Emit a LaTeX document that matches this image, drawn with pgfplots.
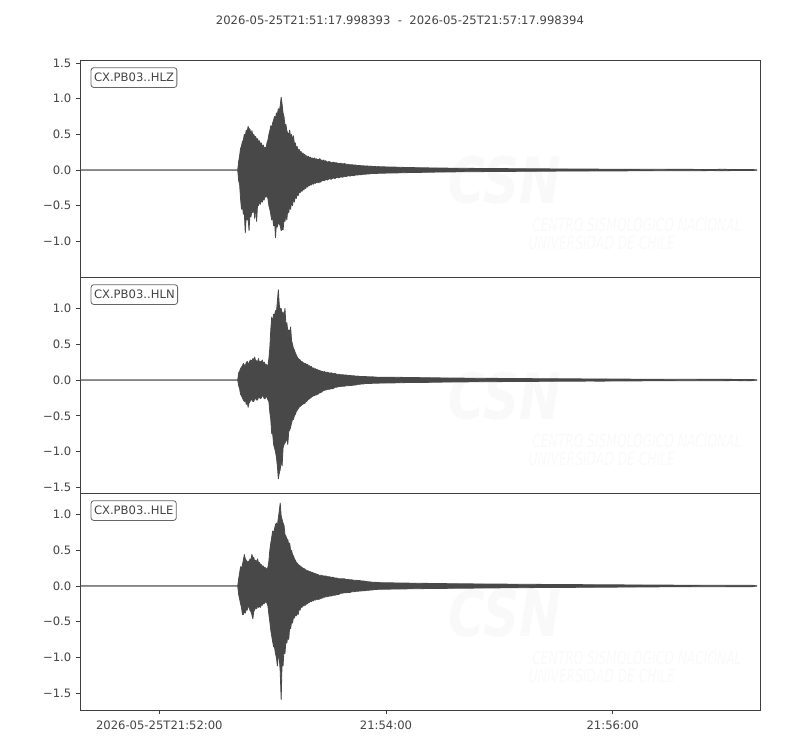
\documentclass[border=0pt]{standalone}
\usepackage{fontspec}
\setmainfont{DejaVu Sans}
\usepackage{pgfplots}
\usepackage{pgfplotstable}
\pgfplotsset{compat=1.18}
\definecolor{tr}{HTML}{484848}
\definecolor{fr}{HTML}{3F3F3F}
\definecolor{tx}{HTML}{444444}
\definecolor{wm}{HTML}{F9F9F9}

% ---------- HLZ ----------
\pgfplotstableread{
t y
0 0
83.5 0
84.0 0.12
84.5 0.2
85.0 0.3
85.5 0.34
86.0 0.4
86.5 0.42
87.0 0.5
87.5 0.47
88.0 0.56
88.5 0.54
89.0 0.61
89.5 0.58
90.0 0.57
90.5 0.5
91.0 0.55
91.5 0.48
92.0 0.5
92.5 0.46
93.0 0.47
93.5 0.42
94.0 0.44
94.5 0.39
95.0 0.41
95.5 0.36
96.0 0.38
96.5 0.33
97.0 0.35
97.5 0.3
98.0 0.32
98.5 0.3
99.0 0.38
99.5 0.42
100.0 0.5
100.5 0.55
101.0 0.62
101.5 0.6
102.0 0.66
102.5 0.7
103.0 0.75
103.5 0.72
104.0 0.8
104.5 0.78
105.0 0.86
105.5 0.82
106.0 0.9
106.5 1.02
107.0 0.92
107.5 0.8
108.0 0.75
108.5 0.62
109.0 0.64
109.5 0.55
110.0 0.52
110.5 0.48
111.0 0.56
111.5 0.46
112.0 0.5
112.5 0.42
113.0 0.48
113.5 0.36
114.0 0.38
114.5 0.3
115.0 0.33
115.5 0.27
116.0 0.29
116.5 0.25
117.0 0.26
117.5 0.22
118.0 0.24
118.5 0.21
119.0 0.22
119.5 0.19
120.0 0.2
120.5 0.18
121.0 0.19
121.5 0.17
122.0 0.18
122.5 0.16
123.0 0.17
123.5 0.15
124.0 0.17
124.5 0.15
125.0 0.16
125.5 0.14
126.0 0.15
126.5 0.14
127.0 0.16
127.5 0.13
128.0 0.14
128.5 0.12
129.0 0.14
129.5 0.12
130.0 0.13
131 0.11
132 0.12
133 0.1
134 0.11
135 0.1
136 0.1
137 0.09
138 0.095
139 0.085
140 0.09
141 0.08
142 0.08
143 0.072
144 0.075
145 0.068
146 0.07
147 0.062
148 0.065
149 0.058
150 0.06
151 0.055
152 0.058
153 0.052
154 0.055
155 0.048
156 0.05
157 0.046
158 0.048
159 0.044
160 0.045
164 0.042
168 0.04
172 0.036
176 0.034
180 0.032
184 0.03
188 0.029
192 0.027
196 0.026
200 0.025
204 0.024
208 0.023
212 0.022
216 0.021
220 0.021
224 0.02
228 0.019
232 0.018
236 0.018
240 0.017
244 0.016
248 0.016
252 0.015
256 0.015
260 0.014
264 0.014
268 0.013
272 0.013
276 0.012
280 0.012
284 0.012
288 0.011
292 0.011
296 0.011
300 0.01
304 0.01
308 0.01
312 0.009
316 0.009
320 0.009
324 0.009
328 0.008
332 0.008
336 0.008
340 0.01
344 0.008
348 0.008
352 0.007
356 0.007
358.5 0
}\hlzU

\pgfplotstableread{
t y
0 0
83.5 0
84.0 -0.15
84.5 -0.2
85.0 -0.4
85.5 -0.55
86.0 -0.5
86.5 -0.62
87.0 -0.6
87.5 -0.88
88.0 -0.65
88.5 -0.7
89.0 -0.68
89.5 -0.85
90.0 -0.6
90.5 -0.66
91.0 -0.56
91.5 -0.6
92.0 -0.52
92.5 -0.68
93.0 -0.5
93.5 -0.72
94.0 -0.48
94.5 -0.5
95.0 -0.44
95.5 -0.48
96.0 -0.42
96.5 -0.45
97.0 -0.4
97.5 -0.42
98.0 -0.36
98.5 -0.38
99.0 -0.36
99.5 -0.4
100.0 -0.5
100.5 -0.55
101.0 -0.62
101.5 -0.7
102.0 -0.66
102.5 -0.78
103.0 -0.7
103.5 -0.95
104.0 -0.74
104.5 -0.8
105.0 -0.72
105.5 -0.76
106.0 -0.78
106.5 -0.85
107.0 -0.82
107.5 -0.84
108.0 -0.7
108.5 -0.72
109.0 -0.62
109.5 -0.7
110.0 -0.55
110.5 -0.6
111.0 -0.5
111.5 -0.55
112.0 -0.44
112.5 -0.5
113.0 -0.4
113.5 -0.45
114.0 -0.36
114.5 -0.4
115.0 -0.33
115.5 -0.36
116.0 -0.3
116.5 -0.32
117.0 -0.28
117.5 -0.3
118.0 -0.26
118.5 -0.28
119.0 -0.24
119.5 -0.26
120.0 -0.22
120.5 -0.24
121.0 -0.21
121.5 -0.22
122.0 -0.2
122.5 -0.21
123.0 -0.18
123.5 -0.2
124.0 -0.17
124.5 -0.19
125.0 -0.16
125.5 -0.18
126.0 -0.16
126.5 -0.18
127.0 -0.15
127.5 -0.17
128.0 -0.14
128.5 -0.15
129.0 -0.14
129.5 -0.15
130.0 -0.13
131 -0.14
132 -0.12
133 -0.13
134 -0.11
135 -0.12
136 -0.1
137 -0.11
138 -0.095
139 -0.1
140 -0.088
141 -0.09
142 -0.08
143 -0.085
144 -0.075
145 -0.08
146 -0.068
147 -0.07
148 -0.064
149 -0.065
150 -0.058
151 -0.06
152 -0.054
153 -0.055
154 -0.05
155 -0.05
156 -0.048
157 -0.05
158 -0.045
159 -0.045
160 -0.044
164 -0.042
168 -0.04
172 -0.037
176 -0.034
180 -0.033
184 -0.031
188 -0.029
192 -0.028
196 -0.027
200 -0.025
204 -0.024
208 -0.024
212 -0.023
216 -0.021
220 -0.021
224 -0.02
228 -0.02
232 -0.018
236 -0.018
240 -0.018
244 -0.016
248 -0.016
252 -0.015
256 -0.015
260 -0.014
264 -0.014
268 -0.014
272 -0.013
276 -0.013
280 -0.012
284 -0.012
288 -0.012
292 -0.011
296 -0.011
300 -0.011
304 -0.01
308 -0.01
312 -0.01
316 -0.009
320 -0.009
324 -0.009
328 -0.009
332 -0.008
336 -0.008
340 -0.011
344 -0.008
348 -0.008
352 -0.007
356 -0.007
358.5 0
}\hlzL

% ---------- HLN ----------
\pgfplotstableread{
t y
0 0
83.5 0
84.0 0.1
84.5 0.12
85.0 0.16
85.5 0.18
86.0 0.2
86.5 0.23
87.0 0.21
87.5 0.2
88.0 0.24
88.5 0.26
89.0 0.23
89.5 0.24
90.0 0.27
90.5 0.28
91.0 0.25
91.5 0.3
92.0 0.28
92.5 0.32
93.0 0.26
93.5 0.27
94.0 0.25
94.5 0.3
95.0 0.24
95.5 0.26
96.0 0.25
96.5 0.28
97.0 0.23
97.5 0.25
98.0 0.22
98.5 0.22
99.0 0.2
99.5 0.2
100.0 0.3
100.5 0.45
101.0 0.7
101.5 0.88
102.0 0.8
102.5 0.92
103.0 0.9
103.5 0.97
104.0 0.95
104.5 1.1
105.0 1.26
105.5 1.05
106.0 0.98
106.5 1.0
107.0 0.92
107.5 0.95
108.0 0.88
108.5 1.0
109.0 0.78
109.5 0.8
110.0 0.68
110.5 0.7
111.0 0.66
111.5 0.74
112.0 0.55
112.5 0.5
113.0 0.44
113.5 0.42
114.0 0.38
114.5 0.35
115.0 0.32
115.5 0.3
116.0 0.29
116.5 0.28
117.0 0.26
117.5 0.26
118.0 0.24
118.5 0.24
119.0 0.22
119.5 0.23
120.0 0.21
120.5 0.22
121.0 0.19
121.5 0.2
122.0 0.18
122.5 0.19
123.0 0.16
123.5 0.17
124.0 0.15
124.5 0.16
125.0 0.14
125.5 0.15
126.0 0.13
126.5 0.14
127.0 0.12
127.5 0.13
128.0 0.115
128.5 0.12
129.0 0.11
129.5 0.12
130.0 0.105
131 0.11
132 0.095
133 0.1
134 0.088
135 0.09
136 0.08
137 0.08
138 0.072
139 0.075
140 0.068
141 0.07
142 0.062
143 0.065
144 0.058
145 0.06
146 0.053
147 0.055
148 0.05
149 0.05
150 0.047
151 0.05
152 0.045
153 0.045
154 0.043
155 0.045
156 0.041
157 0.04
158 0.04
159 0.04
160 0.039
164 0.04
168 0.038
172 0.036
176 0.035
180 0.033
184 0.032
188 0.031
192 0.029
196 0.028
200 0.027
204 0.026
208 0.025
212 0.024
216 0.023
220 0.023
224 0.022
228 0.021
232 0.02
236 0.02
240 0.019
244 0.019
248 0.018
252 0.018
256 0.017
260 0.016
264 0.016
268 0.015
272 0.015
276 0.015
280 0.014
284 0.013
288 0.013
292 0.012
296 0.012
300 0.012
304 0.011
308 0.011
312 0.01
316 0.01
320 0.01
324 0.01
328 0.009
332 0.009
336 0.009
340 0.009
344 0.009
348 0.008
352 0.008
356 0.008
358.5 0
}\hlnU

\pgfplotstableread{
t y
0 0
83.5 0
84.0 -0.08
84.5 -0.12
85.0 -0.2
85.5 -0.22
86.0 -0.25
86.5 -0.28
87.0 -0.3
87.5 -0.27
88.0 -0.34
88.5 -0.3
89.0 -0.38
89.5 -0.32
90.0 -0.3
90.5 -0.28
91.0 -0.27
91.5 -0.3
92.0 -0.3
92.5 -0.26
93.0 -0.26
93.5 -0.28
94.0 -0.28
94.5 -0.24
95.0 -0.24
95.5 -0.26
96.0 -0.25
96.5 -0.22
97.0 -0.22
97.5 -0.26
98.0 -0.26
98.5 -0.23
99.0 -0.24
99.5 -0.28
100.0 -0.3
100.5 -0.45
101.0 -0.55
101.5 -0.75
102.0 -0.75
102.5 -0.9
103.0 -0.95
103.5 -1.0
104.0 -1.08
104.5 -1.2
105.0 -1.38
105.5 -1.3
106.0 -1.25
106.5 -1.1
107.0 -1.2
107.5 -0.95
108.0 -0.9
108.5 -0.88
109.0 -0.85
109.5 -0.82
110.0 -0.9
110.5 -0.72
111.0 -0.7
111.5 -0.66
112.0 -0.6
112.5 -0.55
113.0 -0.55
113.5 -0.5
114.0 -0.48
114.5 -0.44
115.0 -0.42
115.5 -0.4
116.0 -0.38
116.5 -0.37
117.0 -0.36
117.5 -0.34
118.0 -0.34
118.5 -0.32
119.0 -0.33
119.5 -0.3
120.0 -0.3
120.5 -0.28
121.0 -0.27
121.5 -0.26
122.0 -0.25
122.5 -0.24
123.0 -0.23
123.5 -0.22
124.0 -0.22
124.5 -0.21
125.0 -0.21
125.5 -0.2
126.0 -0.2
126.5 -0.18
127.0 -0.18
127.5 -0.17
128.0 -0.17
128.5 -0.15
129.0 -0.15
129.5 -0.14
130.0 -0.14
131 -0.13
132 -0.13
133 -0.12
134 -0.12
135 -0.1
136 -0.1
137 -0.09
138 -0.09
139 -0.085
140 -0.085
141 -0.08
142 -0.08
143 -0.075
144 -0.075
145 -0.07
146 -0.07
147 -0.06
148 -0.06
149 -0.055
150 -0.055
151 -0.05
152 -0.05
153 -0.048
154 -0.048
155 -0.045
156 -0.045
157 -0.044
158 -0.044
159 -0.042
160 -0.042
164 -0.041
168 -0.039
172 -0.036
176 -0.036
180 -0.033
184 -0.033
188 -0.03
192 -0.029
196 -0.028
200 -0.027
204 -0.026
208 -0.025
212 -0.024
216 -0.023
220 -0.023
224 -0.022
228 -0.022
232 -0.02
236 -0.02
240 -0.02
244 -0.018
248 -0.018
252 -0.017
256 -0.017
260 -0.017
264 -0.016
268 -0.015
272 -0.015
276 -0.016
280 -0.014
284 -0.013
288 -0.013
292 -0.013
296 -0.012
300 -0.011
304 -0.011
308 -0.011
312 -0.011
316 -0.01
320 -0.01
324 -0.009
328 -0.009
332 -0.01
336 -0.009
340 -0.009
344 -0.008
348 -0.008
352 -0.009
356 -0.008
358.5 0
}\hlnL

% ---------- HLE ----------
\pgfplotstableread{
t y
0 0
83.5 0
84.0 0.1
84.5 0.18
85.0 0.27
85.5 0.24
86.0 0.3
86.5 0.36
87.0 0.44
87.5 0.38
88.0 0.36
88.5 0.32
89.0 0.35
89.5 0.33
90.0 0.38
90.5 0.36
91.0 0.44
91.5 0.4
92.0 0.4
92.5 0.34
93.0 0.36
93.5 0.33
94.0 0.38
94.5 0.32
95.0 0.33
95.5 0.3
96.0 0.3
96.5 0.27
97.0 0.28
97.5 0.25
98.0 0.26
98.5 0.24
99.0 0.24
99.5 0.26
100.0 0.35
100.5 0.5
101.0 0.6
101.5 0.68
102.0 0.77
102.5 0.74
103.0 0.8
103.5 0.86
104.0 0.88
104.5 0.85
105.0 0.95
105.5 1.05
106.0 1.16
106.5 0.98
107.0 0.93
107.5 0.88
108.0 0.85
108.5 0.72
109.0 0.7
109.5 0.66
110.0 0.65
110.5 0.58
111.0 0.6
111.5 0.5
112.0 0.5
112.5 0.44
113.0 0.42
113.5 0.38
114.0 0.36
114.5 0.33
115.0 0.32
115.5 0.3
116.0 0.29
116.5 0.28
117.0 0.27
117.5 0.26
118.0 0.25
118.5 0.24
119.0 0.24
119.5 0.22
120.0 0.22
120.5 0.21
121.0 0.21
121.5 0.2
122.0 0.2
122.5 0.19
123.0 0.19
123.5 0.18
124.0 0.18
124.5 0.17
125.0 0.17
125.5 0.16
126.0 0.16
126.5 0.15
127.0 0.15
127.5 0.15
128.0 0.15
128.5 0.14
129.0 0.14
129.5 0.14
130.0 0.14
131 0.13
132 0.13
133 0.12
134 0.12
135 0.11
136 0.11
137 0.1
138 0.1
139 0.1
140 0.1
141 0.09
142 0.09
143 0.085
144 0.085
145 0.08
146 0.08
147 0.075
148 0.075
149 0.07
150 0.07
151 0.065
152 0.06
153 0.058
154 0.055
155 0.052
156 0.05
157 0.05
158 0.048
159 0.046
160 0.045
164 0.044
168 0.042
172 0.04
176 0.039
180 0.037
184 0.036
188 0.034
192 0.033
196 0.032
200 0.031
204 0.03
208 0.029
212 0.028
216 0.027
220 0.026
224 0.026
228 0.025
232 0.024
236 0.023
240 0.023
244 0.022
248 0.021
252 0.021
256 0.02
260 0.019
264 0.019
268 0.018
272 0.017
276 0.017
280 0.016
284 0.015
288 0.015
292 0.014
296 0.014
300 0.013
304 0.013
308 0.012
312 0.012
316 0.011
320 0.011
324 0.011
328 0.01
332 0.01
336 0.01
340 0.01
344 0.009
348 0.009
352 0.009
356 0.009
358.5 0
}\hleU

\pgfplotstableread{
t y
0 0
83.5 0
84.0 -0.12
84.5 -0.18
85.0 -0.25
85.5 -0.3
86.0 -0.4
86.5 -0.4
87.0 -0.35
87.5 -0.38
88.0 -0.32
88.5 -0.34
89.0 -0.28
89.5 -0.3
90.0 -0.34
90.5 -0.36
91.0 -0.4
91.5 -0.46
92.0 -0.36
92.5 -0.33
93.0 -0.3
93.5 -0.32
94.0 -0.28
94.5 -0.3
95.0 -0.28
95.5 -0.3
96.0 -0.26
96.5 -0.27
97.0 -0.24
97.5 -0.25
98.0 -0.22
98.5 -0.23
99.0 -0.24
99.5 -0.28
100.0 -0.4
100.5 -0.5
101.0 -0.62
101.5 -0.7
102.0 -0.78
102.5 -0.85
103.0 -0.86
103.5 -0.95
104.0 -1.0
104.5 -1.12
105.0 -0.98
105.5 -1.0
106.0 -1.2
106.5 -1.59
107.0 -1.05
107.5 -1.12
108.0 -0.9
108.5 -0.95
109.0 -0.78
109.5 -0.8
110.0 -0.7
110.5 -0.75
111.0 -0.58
111.5 -0.6
112.0 -0.5
112.5 -0.52
113.0 -0.44
113.5 -0.45
114.0 -0.4
114.5 -0.42
115.0 -0.38
115.5 -0.4
116.0 -0.32
116.5 -0.34
117.0 -0.29
117.5 -0.3
118.0 -0.27
118.5 -0.28
119.0 -0.26
119.5 -0.27
120.0 -0.24
120.5 -0.25
121.0 -0.22
121.5 -0.23
122.0 -0.21
122.5 -0.22
123.0 -0.2
123.5 -0.21
124.0 -0.19
124.5 -0.2
125.0 -0.18
125.5 -0.19
126.0 -0.18
126.5 -0.19
127.0 -0.17
127.5 -0.18
128.0 -0.16
128.5 -0.17
129.0 -0.15
129.5 -0.16
130.0 -0.15
131 -0.15
132 -0.14
133 -0.14
134 -0.13
135 -0.13
136 -0.12
137 -0.12
138 -0.1
139 -0.1
140 -0.095
141 -0.095
142 -0.09
143 -0.09
144 -0.08
145 -0.08
146 -0.075
147 -0.075
148 -0.07
149 -0.07
150 -0.065
151 -0.065
152 -0.06
153 -0.06
154 -0.055
155 -0.055
156 -0.05
157 -0.05
158 -0.046
159 -0.046
160 -0.046
164 -0.044
168 -0.043
172 -0.041
176 -0.039
180 -0.038
184 -0.036
188 -0.035
192 -0.034
196 -0.033
200 -0.031
204 -0.03
208 -0.03
212 -0.029
216 -0.028
220 -0.027
224 -0.026
228 -0.025
232 -0.025
236 -0.024
240 -0.023
244 -0.022
248 -0.022
252 -0.021
256 -0.02
260 -0.02
264 -0.019
268 -0.018
272 -0.018
276 -0.017
280 -0.016
284 -0.016
288 -0.015
292 -0.015
296 -0.014
300 -0.013
304 -0.013
308 -0.012
312 -0.012
316 -0.012
320 -0.011
324 -0.011
328 -0.01
332 -0.01
336 -0.01
340 -0.01
344 -0.009
348 -0.009
352 -0.009
356 -0.009
358.5 0
}\hleL

\pgfplotsset{
  panel/.style={
    scale only axis, width=510pt,
    xmin=0, xmax=360,
    axis line style={fr, line width=0.6pt},
    tick style={fr, line width=0.6pt},
    major tick length=3pt,
    tick align=outside,
    ytick pos=left,
    xtick pos=bottom,
    yticklabel style={font=\fontsize{8.7}{10}\selectfont, text=tx},
    xticklabel style={font=\fontsize{8.7}{10}\selectfont, text=tx, yshift=-2pt},
    clip=true,
  },
  trc/.style={draw=tr, fill=tr, line width=0.6pt, line join=round},
}
\newcommand{\watermark}{%
  \node[text=wm, font=\fontsize{48}{48}\selectfont\bfseries\itshape, xscale=0.78, anchor=center] at (rel axis cs:0.625,0.447) {CSN};
  \node[text=wm, font=\fontsize{13.5}{14}\selectfont\itshape, xscale=0.68, anchor=west, inner sep=0pt] at (rel axis cs:0.665,0.249) {CENTRO SISMOLÓGICO NACIONAL};
  \node[text=wm, font=\fontsize{13.5}{14}\selectfont\itshape, xscale=0.68, anchor=west, inner sep=0pt] at (rel axis cs:0.66,0.157) {UNIVERSIDAD DE CHILE};
}
\newcommand{\stalabel}[1]{%
  \node[anchor=north west, draw=fr!80, line width=0.6pt, rounded corners=2pt, fill=white,
        text=tx, font=\fontsize{8.7}{10}\selectfont, inner xsep=2.2pt, inner ysep=4.1pt]
        at ([xshift=8pt, yshift=-5.5pt]rel axis cs:0,1) {#1};
}

\begin{document}
\begin{tikzpicture}
\useasboundingbox (0,0) rectangle (600pt,562.5pt);
\node[text=tx, font=\fontsize{8.7}{10}\selectfont] at (300pt,547.5pt) {2026-05-25T21:51:17.998393\ \ -\ \ 2026-05-25T21:57:17.998394};

\begin{axis}[panel, at={(60pt,517.5pt)}, anchor=north west, height=162.75pt,
  ymin=-1.499, ymax=1.542,
  xtick=\empty,
  ytick={-1,-0.5,0,0.5,1,1.5},
  yticklabels={−1.0,−0.5,0.0,0.5,1.0,1.5}]
  \watermark
  \addplot[trc] table[x=t, y=y] {\hlzU};
  \addplot[trc] table[x=t, y=y] {\hlzL};
  \stalabel{CX.PB03..HLZ}
\end{axis}

\begin{axis}[panel, at={(60pt,354.75pt)}, anchor=north west, height=162pt,
  ymin=-1.578, ymax=1.439,
  xtick=\empty,
  ytick={-1.5,-1,-0.5,0,0.5,1},
  yticklabels={−1.5,−1.0,−0.5,0.0,0.5,1.0}]
  \watermark
  \addplot[trc] table[x=t, y=y] {\hlnU};
  \addplot[trc] table[x=t, y=y] {\hlnL};
  \stalabel{CX.PB03..HLN}
\end{axis}

\begin{axis}[panel, at={(60pt,192.75pt)}, anchor=north west, height=162.75pt,
  ymin=-1.737, ymax=1.302,
  xtick={42,162,282},
  xticklabels={2026-05-25T21:52:00,21:54:00,21:56:00},
  ytick={-1.5,-1,-0.5,0,0.5,1},
  yticklabels={−1.5,−1.0,−0.5,0.0,0.5,1.0}]
  \watermark
  \addplot[trc] table[x=t, y=y] {\hleU};
  \addplot[trc] table[x=t, y=y] {\hleL};
  \stalabel{CX.PB03..HLE}
\end{axis}
\end{tikzpicture}
\end{document}
